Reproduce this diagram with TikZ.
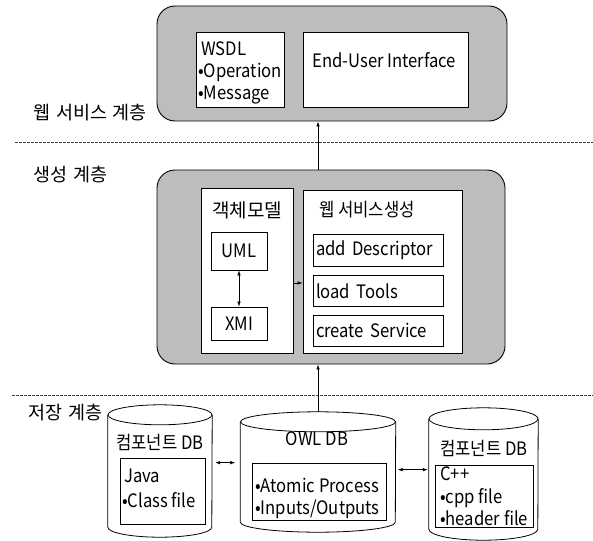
\documentclass[tikz,border=0pt]{standalone}
\usepackage{fontspec}
\setmainfont[FakeStretch=0.9]{Noto Sans CJK KR}
\newfontfamily\layerfont[WordSpace=1.4]{Noto Sans CJK KR}
\usetikzlibrary{positioning,arrows.meta}

\begin{document}
\begin{tikzpicture}[x=1pt,y=-1pt,
		layer/.style={rectangle,rounded corners=18pt,draw,fill=black!26,line width=0.9pt,inner sep=0pt},
		place/.style={rectangle,draw,fill=white,line width=0.7pt,inner sep=0pt},
		sub/.style={place,minimum width=130pt,minimum height=31pt,text width=124pt,inner xsep=3pt,align=left},
		item/.style={anchor=base west,inner sep=0pt},
		title/.style={inner sep=0pt,font=\layerfont},
		dbbody/.style={rectangle,inner sep=0pt,draw=none},
		dbline/.style={line width=0.8pt},
		sep/.style={dash pattern=on 2.5pt off 1.5pt,line width=0.6pt,black!75},
		marrow/.style={-{Latex[length=5pt,width=3.5pt]},line width=0.6pt},
		darrow/.style={{Latex[length=5pt,width=3.5pt]}-{Latex[length=5pt,width=3.5pt]},line width=0.6pt}]
		\fontsize{18.5}{22}\selectfont
		\useasboundingbox (0,0) rectangle (593,540);

		% web service layer
		\node [layer,minimum width=350pt,minimum height=115pt] (webbox) at (332,63.5) {};
		\node [place,minimum width=88pt,minimum height=75pt] (wsdl) at (240,69.5) {};
		\node [place,minimum width=165pt,minimum height=75pt] (eui) at (385.5,69.5) {};
		\node [item] (wsdl-name) at (201,56) {WSDL};
		\node [item] (wsdl-op) at (198,78) {•Operation};
		\node [item] (wsdl-msg) at (198,100) {•Message};
		\node [item] (eui-name) at (312,68) {End-User Interface};
		\node [title,anchor=west] (web-layer) at (33,113) {웹 서비스 계층};

		% generation layer
		\node [layer,minimum width=348pt,minimum height=194pt] (genbox) at (331,267) {};
		\node [place,minimum width=92pt,minimum height=165pt] (objmodel) at (247,270.5) {};
		\node [title,font=\layerfont\fontsize{19}{22}\selectfont] (objmodel-name) at (247,210) {객체모델};
		\node [place,minimum width=56pt,minimum height=38pt] (uml) at (239,251) {UML};
		\node [place,minimum width=56pt,minimum height=33pt] (xmi) at (239,323.5) {XMI};
		\node [place,minimum width=159pt,minimum height=163pt] (wsgen) at (382.5,271.5) {};
		\node [anchor=west,inner sep=0pt] (wsgen-name) at (319,210) {웹 서비스생성};
		\node [sub,minimum height=32pt] (add-desc) at (378,250) {add Descriptor};
		\node [sub] (load-tools) [below=9pt of add-desc] {load Tools};
		\node [sub] (create-svc) [below=8pt of load-tools] {create Service};
		\node [title,anchor=west] (gen-layer) at (33,175) {생성 계층};

		% storage layer
		\node [dbbody,minimum width=104pt,minimum height=112pt] (leftdb) at (160,471) {};
		\node [dbbody,minimum width=155pt,minimum height=100pt] (owldb) at (318,472) {};
		\node [dbbody,minimum width=109pt,minimum height=110pt] (rightdb) at (483.5,474) {};
		\draw [dbline] (leftdb.north west) -- (leftdb.south west) arc [start angle=180,end angle=360,x radius=52pt,y radius=10pt] -- (leftdb.north east);
		\draw [dbline] (leftdb.north) ellipse [x radius=52pt,y radius=10pt];
		\draw [dbline] (owldb.north west) -- (owldb.south west) arc [start angle=180,end angle=360,x radius=77.5pt,y radius=10pt] -- (owldb.north east);
		\draw [dbline] (owldb.north) ellipse [x radius=77.5pt,y radius=10pt];
		\draw [dbline] (rightdb.north west) -- (rightdb.south west) arc [start angle=180,end angle=360,x radius=54.5pt,y radius=11pt] -- (rightdb.north east);
		\draw [dbline] (rightdb.north) ellipse [x radius=54.5pt,y radius=11pt];

		\node [inner sep=0pt] (leftdb-name) at (160,442) {컴포넌트 DB};
		\node [place,minimum width=85pt,minimum height=66pt] (javabox) at (162.5,491) {};
		\node [item] (java-name) at (124,482) {Java};
		\node [item] (java-class) at (122,507) {•Class file};

		\node [inner sep=0pt] (owldb-name) at (317,439) {OWL DB};
		\node [place,minimum width=134pt,minimum height=57pt] (atomic) at (319,491.5) {};
		\node [item] (atomic-proc) at (255,492) {•Atomic Process};
		\node [item] (atomic-io) at (255,514) {•Inputs/Outputs};

		\node [inner sep=0pt] (rightdb-name) at (484,448) {컴포넌트 DB};
		\node [place,minimum width=98pt,minimum height=62pt] (cppbox) at (484,496) {};
		\node [item] (cpp-name) at (440,480) {C++};
		\node [item] (cpp-src) at (440,503) {•cpp file};
		\node [item] (cpp-head) at (440,525) {•header file};
		\node [title,anchor=west] (store-layer) at (28,413) {저장 계층};

		% layer borders
		\draw [sep] (15,142) -- (593,142);
		\draw [sep] (12,395) -- (593,395);

		% vertical arrows
		\draw [marrow] (genbox.north -| owldb.north) to (webbox.south -| owldb.north);
		\draw [marrow] ([yshift=10pt]owldb.north) to (genbox.south -| owldb.north);
		\draw [darrow] (uml) to (xmi);

		% horizontal arrows
		\coordinate (model-out) at ([yshift=-12.5pt]objmodel.east);
		\coordinate (store-left) at (leftdb.east |- atomic.north);
		\coordinate (store-right) at ([yshift=-5pt]owldb.east |- cppbox.north);
		\draw [marrow] (model-out) to (model-out -| wsgen.west);
		\draw [darrow,shorten <=3pt,shorten >=5pt] (store-left) to (store-left -| owldb.west);
		\draw [darrow,shorten <=2pt,shorten >=1pt] (store-right) to (store-right -| rightdb.west);
	\end{tikzpicture}
\end{document}
